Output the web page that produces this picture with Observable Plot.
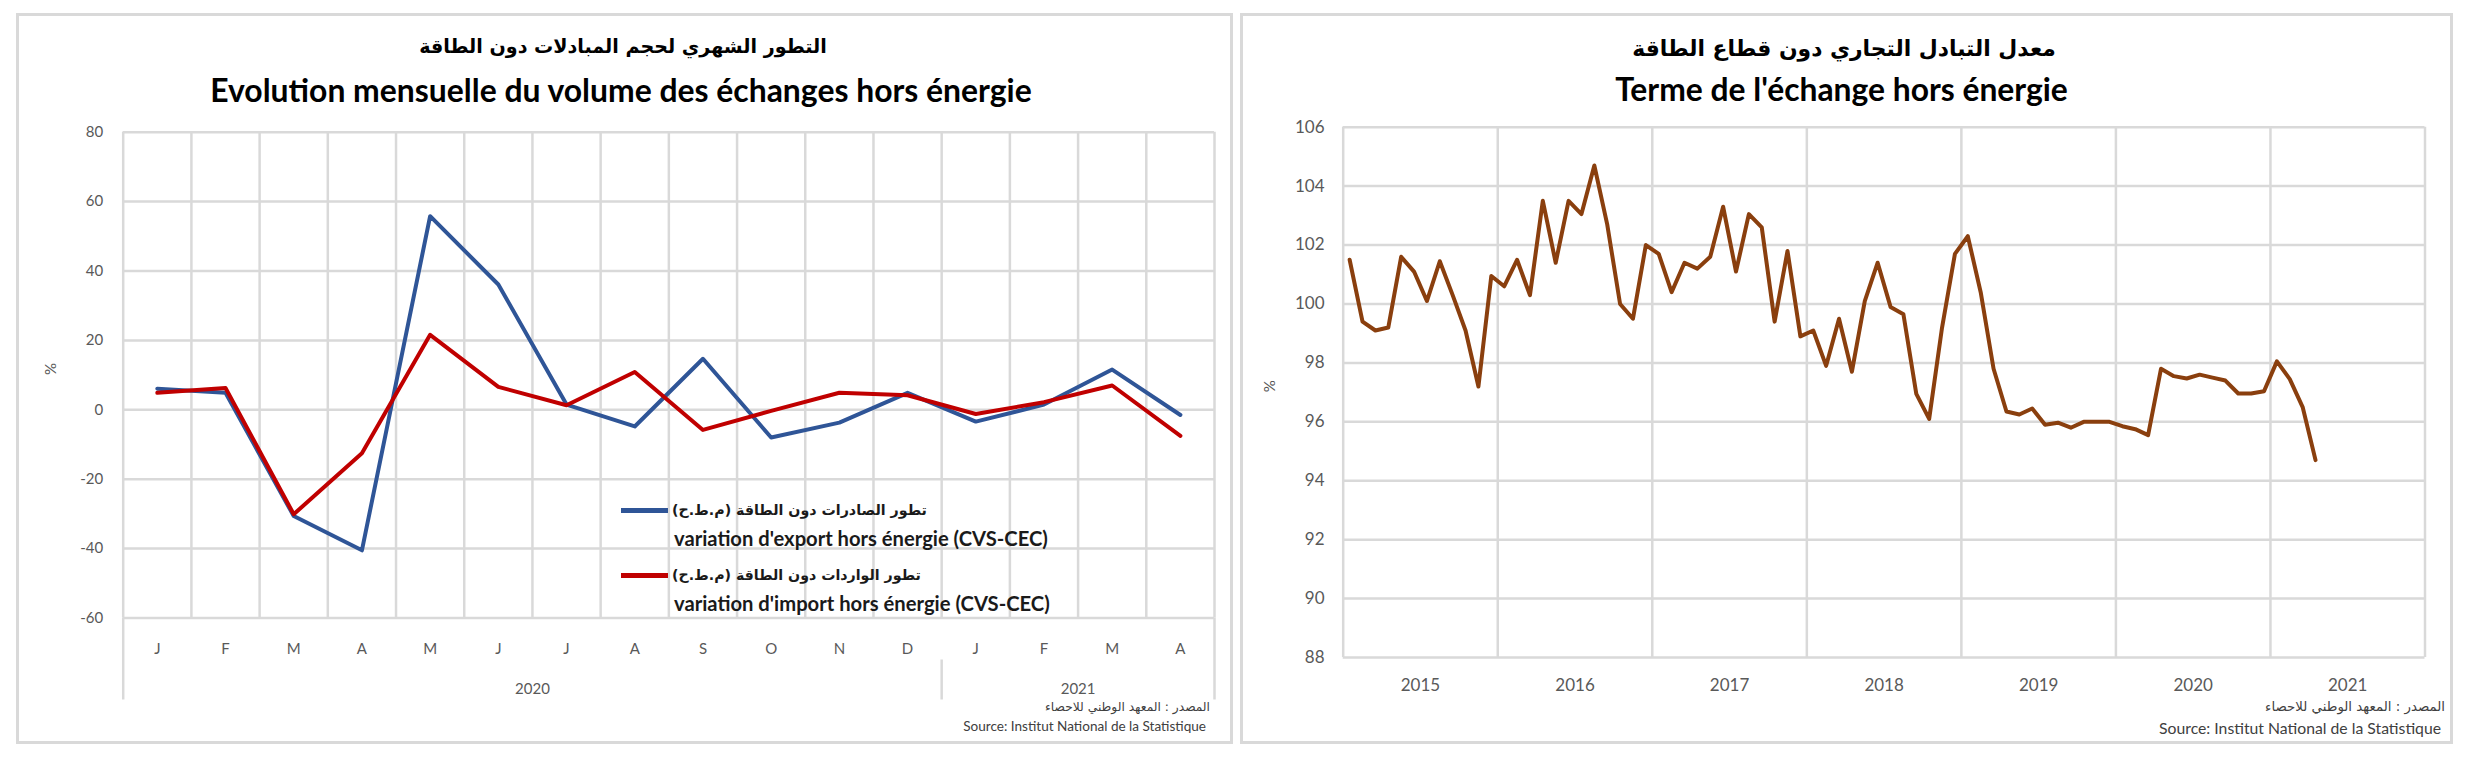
<!DOCTYPE html>
<html><head><meta charset="utf-8">
<script src="https://cdn.jsdelivr.net/npm/d3@7"></script>
<script src="https://cdn.jsdelivr.net/npm/@observablehq/plot@0.6"></script>
<style>
html,body{margin:0;padding:0;background:#fff;}
body{position:relative;width:2471px;height:759px;overflow:hidden;font-family:Lato,"Open Sans",sans-serif;}
.panel{position:absolute;box-sizing:border-box;border:3px solid #d9d9d9;background:#fff;}
.t{position:absolute;white-space:nowrap;line-height:1;}
.ar{font-family:"DejaVu Sans",sans-serif;direction:rtl;}
.sw{position:absolute;height:5px;}
svg.chart{position:absolute;overflow:visible;}
</style></head><body>
<div class="panel" style="left:16px;top:13px;width:1217px;height:731px"></div>
<div class="panel" style="left:1240px;top:13px;width:1213px;height:731px"></div>
<script>
// ---------- data: left chart ----------
const months = ["J","F","M","A","M","J","J","A","S","O","N","D","J","F","M","A"];
const years = ["2020","2021"];
const monthsPerYear = [12, 4];
const exportVar = [6.1, 4.9, -30.6, -40.5, 55.8, 36.1, 1.5, -4.8, 14.7, -8.0, -3.7, 4.9, -3.4, 1.5, 11.6, -1.5];
const importVar = [4.9, 6.3, -30.1, -12.5, 21.6, 6.6, 1.3, 10.9, -5.8, -0.3, 4.9, 4.2, -1.2, 2.2, 7.0, -7.5];
const leftYTicks = [-60, -40, -20, 0, 20, 40, 60, 80];
const seriesNames = [
  ["تطور الصادرات دون الطاقة (م.ط.ح)", "variation d'export hors énergie (CVS-CEC)"],
  ["تطور الواردات دون الطاقة (م.ط.ح)", "variation d'import hors énergie (CVS-CEC)"]
];

// ---------- data: right chart (monthly, Jan 2015 - Apr 2021) ----------
const totYears = ["2015","2016","2017","2018","2019","2020","2021"];
const totValues = [
  101.5, 99.4, 99.1, 99.2, 101.6, 101.1, 100.1, 101.45, 100.3, 99.1, 97.2, 100.95,
  100.6, 101.5, 100.3, 103.5, 101.4, 103.5, 103.05, 104.7, 102.7, 100.0, 99.5, 102.0,
  101.7, 100.4, 101.4, 101.2, 101.6, 103.3, 101.1, 103.05, 102.6, 99.4, 101.8, 98.9,
  99.1, 97.9, 99.5, 97.7, 100.1, 101.4, 99.9, 99.65, 96.95, 96.1, 99.2, 101.7,
  102.3, 100.4, 97.8, 96.35, 96.25, 96.45, 95.9, 95.97, 95.8, 96.0, 96.0, 96.0,
  95.85, 95.75, 95.55, 97.8, 97.55, 97.47, 97.6, 97.5, 97.4, 96.96, 96.96, 97.04,
  98.05, 97.45, 96.5, 94.7
];
const rightYTicks = [88, 90, 92, 94, 96, 98, 100, 102, 104, 106];

// ---------- texts ----------
const leftTitleAr = "التطور الشهري لحجم المبادلات دون الطاقة";
const leftTitleFr = "Evolution mensuelle du volume des échanges hors énergie";
const rightTitleAr = "معدل التبادل التجاري دون قطاع الطاقة";
const rightTitleFr = "Terme de l'échange hors énergie";
const sourceAr = "المصدر : المعهد الوطني للاحصاء";
const sourceFr = "Source: Institut National de la Statistique";

const colors = {exp: "#2f5597", imp: "#c00000", tot: "#8a3f0e", grid: "#d9d9d9", tick: "#595959"};

// ---------- helpers ----------
function addText(str, o) {
  const d = document.createElement("div");
  d.className = "t " + (o.cls || "");
  d.textContent = str;
  const base = 20;
  d.style.fontSize = base + "px";
  d.style.fontWeight = o.weight || "normal";
  d.style.color = o.color || "#000";
  document.body.appendChild(d);
  if (o.width) {
    const w = d.getBoundingClientRect().width;
    d.style.fontSize = (base * o.width / w) + "px";
  } else if (o.size) d.style.fontSize = o.size + "px";
  const r = d.getBoundingClientRect();
  const align = o.align || "center";
  const left = align === "center" ? o.x - r.width / 2 : align === "right" ? o.x - r.width : o.x;
  d.style.left = left + "px";
  d.style.top = (o.y - r.height / 2) + "px";
  return d;
}
function addSwatch(x, y, w, color) {
  const s = document.createElement("div");
  s.className = "sw";
  s.style.left = x + "px"; s.style.top = (y - 2.5) + "px"; s.style.width = w + "px";
  s.style.background = color;
  document.body.appendChild(s);
}
function placeSvg(svg, x, y) {
  svg.classList.add("chart");
  svg.style.left = x + "px"; svg.style.top = y + "px";
  document.body.appendChild(svg);
}

// ---------- left chart ----------
const leftRows = months.map((m, i) => ({i: i + 0.5, exp: exportVar[i], imp: importVar[i]}));
const monthCenters = months.map((m, i) => i + 0.5);
const yearStarts = monthsPerYear.map((n, k) => d3.sum(monthsPerYear.slice(0, k)));
const yearCenters = monthsPerYear.map((n, k) => yearStarts[k] + n / 2);

const leftPlot = Plot.plot({
  width: 1215, height: 729,
  marginLeft: 105.7, marginRight: 18, marginTop: 117.7, marginBottom: 125.5,
  x: {type: "linear", domain: [0, months.length], axis: null},
  y: {domain: [leftYTicks[0], leftYTicks[leftYTicks.length - 1]], axis: null},
  style: {fontFamily: "Lato, 'Open Sans', sans-serif", color: colors.tick, background: "transparent", overflow: "visible"},
  marks: [
    Plot.ruleY(leftYTicks, {stroke: colors.grid, strokeWidth: 2.5}),
    Plot.ruleX(d3.range(0, months.length + 1), {stroke: colors.grid, strokeWidth: 2.5}),
    Plot.axisY({ticks: leftYTicks, tickSize: 0, tickPadding: 20, tickFormat: d => String(d), fontSize: 15, label: null}),
    Plot.axisX({ticks: monthCenters, tickSize: 0, tickPadding: 25, tickFormat: d => months[Math.floor(d)], fontSize: 15, label: null}),
    Plot.axisX({ticks: yearCenters, tickSize: 0, tickPadding: 65, tickFormat: d => years[yearCenters.indexOf(d)], fontSize: 15, label: null}),
    Plot.axisX({ticks: [0, months.length], tickSize: 82, tickFormat: () => "", stroke: colors.grid, strokeWidth: 2.5, label: null}),
    Plot.axisX({ticks: yearStarts.slice(1), tickSize: 40, dy: 42, tickFormat: () => "", stroke: colors.grid, strokeWidth: 2.5, label: null}),
    Plot.text(["%"], {frameAnchor: "left", dx: -72, rotate: -90, fontSize: 15, fill: colors.tick}),
    Plot.line(leftRows, {x: "i", y: "exp", stroke: colors.exp, strokeWidth: 4, strokeLinejoin: "round"}),
    Plot.line(leftRows, {x: "i", y: "imp", stroke: colors.imp, strokeWidth: 4, strokeLinejoin: "round"})
  ]
});
placeSvg(leftPlot, 17, 14);

// ---------- right chart ----------
const totRows = totValues.map((v, i) => ({i: i + 0.5, v}));
const nMonths = totYears.length * 12;
const totYearCenters = totYears.map((y, k) => k * 12 + 6);
const rightPlot = Plot.plot({
  width: 1211, height: 729,
  marginLeft: 101.7, marginRight: 27.5, marginTop: 112.7, marginBottom: 86,
  x: {type: "linear", domain: [0, nMonths], axis: null},
  y: {domain: [rightYTicks[0], rightYTicks[rightYTicks.length - 1]], axis: null},
  style: {fontFamily: "Lato, 'Open Sans', sans-serif", color: colors.tick, background: "transparent", overflow: "visible"},
  marks: [
    Plot.ruleY(rightYTicks, {stroke: colors.grid, strokeWidth: 2.5}),
    Plot.ruleX(d3.range(0, nMonths + 1, 12), {stroke: colors.grid, strokeWidth: 2.5}),
    Plot.axisY({ticks: rightYTicks, tickSize: 0, tickPadding: 18.7, tickFormat: d => String(d), fontSize: 17, label: null}),
    Plot.axisX({ticks: totYearCenters, tickSize: 0, tickPadding: 21, tickFormat: d => totYears[(d - 6) / 12], fontSize: 17, label: null}),
    Plot.text(["%"], {frameAnchor: "left", dx: -73, rotate: -90, fontSize: 15, fill: colors.tick}),
    Plot.line(totRows, {x: "i", y: "v", stroke: colors.tot, strokeWidth: 4, strokeLinejoin: "round"})
  ]
});
placeSvg(rightPlot, 1241, 14);

// ---------- titles, legend, sources ----------
addText(leftTitleAr, {x: 623, y: 47, width: 408, weight: "bold", cls: "ar"});
addText(leftTitleFr, {x: 621, y: 90.5, width: 822, weight: "bold"});
addText(rightTitleAr, {x: 1844, y: 49, width: 424, weight: "bold", cls: "ar"});
addText(rightTitleFr, {x: 1841.5, y: 90, width: 453, weight: "bold"});

addSwatch(621, 510, 47, colors.exp);
addText(seriesNames[0][0], {x: 672, y: 510, width: 255, align: "left", weight: "bold", cls: "ar", color: "#1a1a1a"});
addText(seriesNames[0][1], {x: 674, y: 538, width: 374, align: "left", weight: "bold", color: "#1a1a1a"});
addSwatch(621, 575, 47, colors.imp);
addText(seriesNames[1][0], {x: 672, y: 575, width: 249, align: "left", weight: "bold", cls: "ar", color: "#1a1a1a"});
addText(seriesNames[1][1], {x: 674, y: 603, width: 376, align: "left", weight: "bold", color: "#1a1a1a"});

addText(sourceAr, {x: 1210, y: 707, width: 165, align: "right", cls: "ar", color: "#404040"});
addText(sourceFr, {x: 1206, y: 726.7, width: 243, align: "right", color: "#404040"});
addText(sourceAr, {x: 2445, y: 707, width: 180, align: "right", cls: "ar", color: "#404040"});
addText(sourceFr, {x: 2441, y: 727.7, width: 282, align: "right", color: "#404040"});
</script>
</body></html>
